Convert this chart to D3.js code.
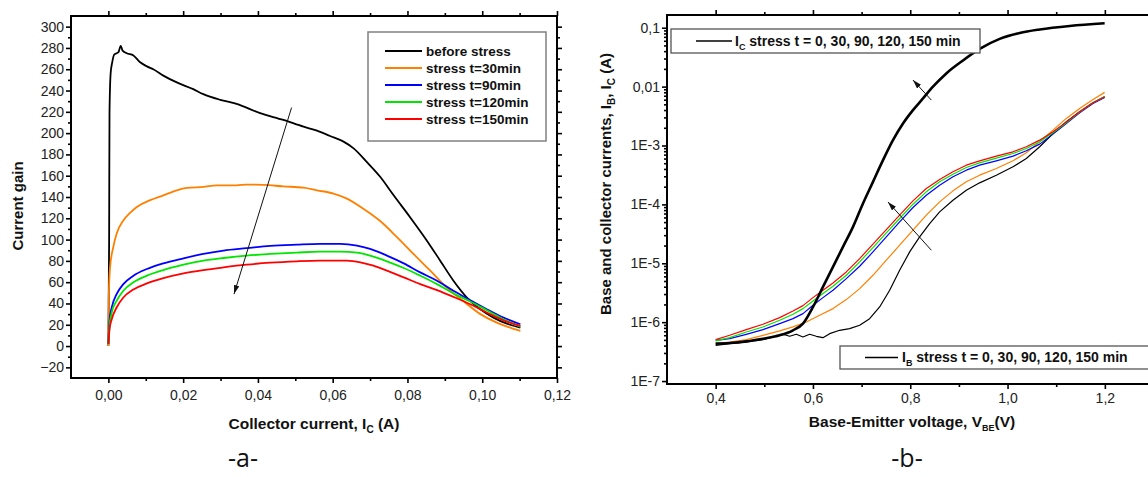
<!DOCTYPE html>
<html><head><meta charset="utf-8">
<script src="https://cdn.jsdelivr.net/npm/d3@7"></script>
<style>
body{margin:0;background:#fff;}
svg{display:block;}
</style>
</head><body>
<svg id="c" width="1148" height="477"></svg>
<script>
// ---------------- DATA: chart (a) current gain vs collector current ----------------
const seriesNamesA = ["before stress", "stress t=30min", "stress t=90min", "stress t=120min", "stress t=150min"];
const colorsA = ["#000000", "#ff8000", "#0000ff", "#00e600", "#ff0000"];
// [Ic (A), gain]
const gainBefore = [[0,0],[0.0002,100],[0.0003,219],[0.0006,256],[0.0010,266],[0.0016,274],[0.0022,275],[0.0027,276],[0.0033,282],[0.0038,277.5],[0.0049,275],[0.0067,273],[0.0085,266.5],[0.0103,262.7],[0.0120,260],[0.0147,254],[0.0183,247.6],[0.0227,241.3],[0.0254,236.6],[0.0299,231.3],[0.0343,227.5],[0.0406,218.7],[0.0468,212.4],[0.0522,206],[0.0558,202.3],[0.0593,197.3],[0.0629,192],[0.0656,185.7],[0.0691,173],[0.0727,159],[0.0763,141.6],[0.0807,121],[0.0852,99],[0.0888,80],[0.0923,61.4],[0.0959,45.6],[0.0995,34.6],[0.1030,26.7],[0.1066,21],[0.1102,17.3]];
const gain30 = [[0,0],[0.0001,45.6],[0.00045,74],[0.0013,92.8],[0.0022,105.4],[0.0040,118],[0.0058,125],[0.0076,130.6],[0.0112,137],[0.0147,141.6],[0.0183,146.3],[0.0210,148.5],[0.0254,149.5],[0.0290,151],[0.0343,151],[0.0370,151.7],[0.0415,151.4],[0.0468,150],[0.0522,148.8],[0.0558,146.3],[0.0602,143.2],[0.0638,138.5],[0.0682,129],[0.0727,117.4],[0.0772,102.3],[0.0816,86.5],[0.0861,70.8],[0.0905,55],[0.0950,42],[0.0995,30],[0.1039,22],[0.1075,17.3],[0.1102,14.2]];
const gain90 = [[0,2],[0.0003,23.6],[0.0009,36.2],[0.0022,48.8],[0.0040,58.2],[0.0067,66.1],[0.0103,72.4],[0.0147,77.7],[0.0201,82.4],[0.0254,86.5],[0.0308,89.7],[0.0370,91.9],[0.0433,94.1],[0.0504,95.3],[0.0566,96],[0.0620,96],[0.0665,94.4],[0.0700,91.3],[0.0745,85],[0.0790,77.7],[0.0834,69.2],[0.0879,61.4],[0.0923,51.9],[0.0968,43.1],[0.1012,34.6],[0.1057,26.7],[0.1102,20.5]];
const gain120 = [[0,2],[0.0003,18.9],[0.0009,31.5],[0.0022,42.5],[0.0040,52],[0.0067,59.9],[0.0103,66.1],[0.0147,71.4],[0.0201,76.4],[0.0254,80.2],[0.0308,82.7],[0.0370,85],[0.0433,86.5],[0.0504,87.8],[0.0566,88.7],[0.0620,88.7],[0.0665,87.8],[0.0700,84.9],[0.0745,79.6],[0.0790,73.3],[0.0834,66.1],[0.0879,58.2],[0.0923,49.4],[0.0968,41.9],[0.1012,33.7],[0.1057,25.2],[0.1102,18.3]];
const gain150 = [[0,2],[0.0003,15.7],[0.0009,25.2],[0.0022,36.2],[0.0040,45.6],[0.0067,53.2],[0.0103,58.8],[0.0147,63.8],[0.0201,68.3],[0.0254,71.4],[0.0308,73.9],[0.0370,76.4],[0.0433,78.3],[0.0504,79.6],[0.0566,80.2],[0.0638,80.2],[0.0674,78.7],[0.0709,75.5],[0.0745,70.8],[0.0790,64.5],[0.0834,58.2],[0.0879,52.5],[0.0923,46.2],[0.0968,39.3],[0.1012,31.5],[0.1057,24.2],[0.1102,18.9]];
const seriesA = [gainBefore, gain30, gain90, gain120, gain150];
const xTicksA = [0, 0.02, 0.04, 0.06, 0.08, 0.10, 0.12];
const yTicksA = [-20, 0, 20, 40, 60, 80, 100, 120, 140, 160, 180, 200, 220, 240, 260, 280, 300];
const arrowA = [[0.049, 224], [0.0336, 48.8]];

// ---------------- DATA: chart (b) IB, IC vs VBE (currents as log10 of A) ----------------
const colorsB = ["#000000", "#ff8000", "#0000ff", "#00e600", "#ff0000"];
const icLogBefore = [[0.400,-6.365],[0.4288,-6.354],[0.4630,-6.326],[0.4973,-6.280],[0.5316,-6.223],[0.5590,-6.138],[0.5795,-6.025],[0.6001,-5.742],[0.6206,-5.402],[0.6412,-5.062],[0.6617,-4.722],[0.6823,-4.382],[0.7028,-3.985],[0.7234,-3.617],[0.7440,-3.249],[0.7645,-2.909],[0.7851,-2.626],[0.8056,-2.399],[0.8262,-2.201],[0.8467,-2.002],[0.8741,-1.776],[0.9077,-1.560],[0.9427,-1.360],[0.9838,-1.190],[1.0249,-1.090],[1.0660,-1.030],[1.1277,-0.970],[1.1996,-0.925]];
const ibLogBefore = [[0.4000,-6.393],[0.4288,-6.365],[0.4630,-6.337],[0.4973,-6.297],[0.5178,-6.252],[0.5384,-6.206],[0.5521,-6.240],[0.5658,-6.206],[0.5795,-6.252],[0.5932,-6.206],[0.6069,-6.240],[0.6206,-6.263],[0.6343,-6.195],[0.6549,-6.138],[0.6754,-6.110],[0.6960,-6.053],[0.7165,-5.940],[0.7371,-5.742],[0.7577,-5.458],[0.7782,-5.119],[0.7988,-4.807],[0.8193,-4.552],[0.8399,-4.325],[0.8604,-4.127],[0.8878,-3.929],[0.9152,-3.759],[0.9426,-3.634],[0.9769,-3.504],[1.0112,-3.362],[1.0386,-3.220],[1.0660,-3.022],[1.0934,-2.796],[1.1208,-2.597],[1.1482,-2.427],[1.1756,-2.274],[1.1996,-2.173]];
const ibLog30 = [[0.4000,-6.365],[0.4288,-6.337],[0.4630,-6.297],[0.4973,-6.223],[0.5316,-6.149],[0.5590,-6.081],[0.5864,-5.997],[0.6138,-5.884],[0.6412,-5.770],[0.6686,-5.617],[0.6960,-5.430],[0.7234,-5.204],[0.7508,-4.948],[0.7782,-4.693],[0.8056,-4.438],[0.8330,-4.183],[0.8604,-3.957],[0.8878,-3.770],[0.9152,-3.617],[0.9426,-3.504],[0.9769,-3.390],[1.0112,-3.260],[1.0386,-3.124],[1.0660,-2.937],[1.0934,-2.739],[1.1208,-2.540],[1.1482,-2.370],[1.1756,-2.218],[1.1996,-2.098]];
const ibLog90 = [[0.4000,-6.308],[0.4288,-6.280],[0.4630,-6.206],[0.4973,-6.127],[0.5316,-6.025],[0.5590,-5.940],[0.5795,-5.855],[0.6001,-5.713],[0.6206,-5.583],[0.6412,-5.458],[0.6686,-5.260],[0.6960,-5.051],[0.7234,-4.807],[0.7508,-4.552],[0.7782,-4.297],[0.8056,-4.053],[0.8330,-3.844],[0.8604,-3.674],[0.8878,-3.532],[0.9152,-3.419],[0.9426,-3.334],[0.9769,-3.260],[1.0112,-3.181],[1.0386,-3.090],[1.0660,-2.977],[1.0934,-2.807],[1.1208,-2.626],[1.1482,-2.444],[1.1756,-2.286],[1.1996,-2.184]];
const ibLog120 = [[0.4000,-6.319],[0.4288,-6.263],[0.4630,-6.167],[0.4973,-6.082],[0.5316,-5.968],[0.5590,-5.866],[0.5795,-5.770],[0.6001,-5.640],[0.6206,-5.515],[0.6412,-5.390],[0.6686,-5.203],[0.6960,-4.977],[0.7234,-4.733],[0.7508,-4.484],[0.7782,-4.240],[0.8056,-3.997],[0.8330,-3.787],[0.8604,-3.617],[0.8878,-3.487],[0.9152,-3.374],[0.9426,-3.294],[0.9769,-3.215],[1.0112,-3.136],[1.0386,-3.050],[1.0660,-2.937],[1.0934,-2.784],[1.1208,-2.614],[1.1482,-2.433],[1.1756,-2.274],[1.1996,-2.173]];
const ibLog150 = [[0.4000,-6.297],[0.4288,-6.223],[0.4630,-6.127],[0.4973,-6.036],[0.5316,-5.923],[0.5590,-5.810],[0.5795,-5.719],[0.6001,-5.583],[0.6206,-5.458],[0.6412,-5.334],[0.6686,-5.147],[0.6960,-4.920],[0.7234,-4.676],[0.7508,-4.427],[0.7782,-4.183],[0.8056,-3.940],[0.8330,-3.730],[0.8604,-3.577],[0.8878,-3.447],[0.9152,-3.334],[0.9426,-3.260],[0.9769,-3.181],[1.0112,-3.107],[1.0386,-3.022],[1.0660,-2.909],[1.0934,-2.767],[1.1208,-2.603],[1.1482,-2.427],[1.1756,-2.274],[1.1996,-2.173]];
const ibSeries = [ibLogBefore, ibLog30, ibLog90, ibLog120, ibLog150];
const xTicksB = [0.4, 0.6, 0.8, 1.0, 1.2];
const yTicksB = [1e-1, 1e-2, 1e-3, 1e-4, 1e-5, 1e-6, 1e-7];
const yTickLabelsB = ["0,1", "0,01", "1E-3", "1E-4", "1E-5", "1E-6", "1E-7"];
const arrowIC = [[0.8434, -2.229], [0.8056, -1.889]];
const arrowIB = [[0.8434, -4.779], [0.7542, -3.958]];

// ---------------- DRAWING ----------------
const FONT = '"Liberation Sans", Arial, Helvetica, sans-serif';
const svg = d3.select("#c");
const comma = f => v => f(v).replace(".", ",");

const defs = svg.append("defs");
defs.append("marker").attr("id", "ah").attr("viewBox", "0 0 10 6")
  .attr("refX", 10).attr("refY", 3).attr("markerWidth", 9).attr("markerHeight", 5.4)
  .attr("markerUnits", "userSpaceOnUse").attr("orient", "auto")
  .append("path").attr("d", "M0,0 L10,3 L0,6 Z").attr("fill", "#111");

function styleAxis(g, fs) {
  g.select(".domain").remove();
  g.selectAll(".tick line").attr("stroke", "#000").attr("stroke-width", 1.6);
  g.selectAll(".tick text").style("font-family", FONT).style("font-size", fs + "px").attr("fill", "#222");
}

// ===== Chart (a) =====
const xA = d3.scaleLinear().domain([-0.01, 0.12]).range([71, 557]);
const yA = d3.scaleLinear().domain([-30, 310]).range([378, 16]);
const gA = svg.append("g");

const minorXA = d3.range(1, 12, 2).map(i => i / 100);
const minorYA = d3.range(-10, 310, 20);

gA.append("g").attr("transform", "translate(0,378)")
  .call(d3.axisBottom(xA).tickValues(xTicksA).tickFormat(comma(d3.format(".2f"))).tickSize(5).tickPadding(7))
  .call(g => styleAxis(g, 14));
gA.append("g").attr("transform", "translate(0,378)")
  .call(d3.axisBottom(xA).tickValues(minorXA).tickFormat("").tickSize(3)).call(g => styleAxis(g, 14));
gA.append("g").attr("transform", "translate(0,16)")
  .call(d3.axisTop(xA).tickValues(xTicksA).tickFormat("").tickSize(5)).call(g => styleAxis(g, 14));
gA.append("g").attr("transform", "translate(0,16)")
  .call(d3.axisTop(xA).tickValues(minorXA).tickFormat("").tickSize(3)).call(g => styleAxis(g, 14));
gA.append("g").attr("transform", "translate(71,0)")
  .call(d3.axisLeft(yA).tickValues(yTicksA).tickFormat(d3.format("d")).tickSize(5).tickPadding(2))
  .call(g => styleAxis(g, 14));
gA.append("g").attr("transform", "translate(71,0)")
  .call(d3.axisLeft(yA).tickValues(minorYA).tickFormat("").tickSize(3)).call(g => styleAxis(g, 14));
gA.append("g").attr("transform", "translate(557,0)")
  .call(d3.axisRight(yA).tickValues(yTicksA).tickFormat("").tickSize(5)).call(g => styleAxis(g, 14));
gA.append("g").attr("transform", "translate(557,0)")
  .call(d3.axisRight(yA).tickValues(minorYA).tickFormat("").tickSize(3)).call(g => styleAxis(g, 14));

gA.append("rect").attr("x", xA(-0.01)).attr("y", yA(310))
  .attr("width", xA(0.12) - xA(-0.01)).attr("height", yA(-30) - yA(310))
  .attr("fill", "none").attr("stroke", "#000").attr("stroke-width", 2);

const lineA = d3.line().x(d => xA(d[0])).y(d => yA(d[1])).curve(d3.curveMonotoneX);
seriesA.forEach((s, i) => {
  gA.append("path").datum(s).attr("d", lineA).attr("fill", "none")
    .attr("stroke", colorsA[i]).attr("stroke-width", 1.8).attr("stroke-linejoin", "round");
});

gA.append("line").attr("x1", xA(arrowA[0][0])).attr("y1", yA(arrowA[0][1]))
  .attr("x2", xA(arrowA[1][0])).attr("y2", yA(arrowA[1][1]))
  .attr("stroke", "#111").attr("stroke-width", 1).attr("marker-end", "url(#ah)");

// legend (a)
const legA = gA.append("g");
legA.append("rect").attr("x", 368).attr("y", 32).attr("width", 178).attr("height", 109)
  .attr("fill", "#fff").attr("stroke", "#808080").attr("stroke-width", 1.5);
seriesNamesA.forEach((n, i) => {
  const yy = 51 + i * 17;
  legA.append("line").attr("x1", 385).attr("x2", 422).attr("y1", yy).attr("y2", yy)
    .attr("stroke", colorsA[i]).attr("stroke-width", 2);
  legA.append("text").attr("x", 426).attr("y", yy).attr("dy", "0.35em")
    .style("font-family", FONT).style("font-size", "13.5px").style("font-weight", "bold")
    .attr("fill", "#111").text(n);
});

// titles (a)
svg.append("text").attr("transform", "translate(23,206) rotate(-90)").attr("text-anchor", "middle")
  .style("font-family", FONT).style("font-size", "15px").style("font-weight", "bold").attr("fill", "#111")
  .text("Current gain");
svg.append("text").attr("x", 314).attr("y", 429).attr("text-anchor", "middle")
  .style("font-family", FONT).style("font-size", "15.5px").style("font-weight", "bold").attr("fill", "#111")
  .call(t => {
    t.append("tspan").text("Collector current, I");
    t.append("tspan").attr("dy", 4).style("font-size", "10px").text("C");
    t.append("tspan").attr("dy", -4).text(" (A)");
  });
svg.append("text").attr("x", 243).attr("y", 467).attr("text-anchor", "middle")
  .style("font-family", '"Open Sans", "Noto Sans", sans-serif').style("font-size", "25px").attr("fill", "#111")
  .text("-a-");

// ===== Chart (b) =====
const xB = d3.scaleLinear().domain([0.3, 1.3]).range([667, 1153.5]);
const yB = d3.scaleLog().domain([Math.pow(10, -7.05), Math.pow(10, -0.784)]).range([384, 15]);
const gB = svg.append("g");

const minorXB = [0.5, 0.7, 0.9, 1.1];
const minorYB = [];
for (let e = -7; e <= -1; e++) for (let m = 2; m <= 9; m++) {
  const v = m * Math.pow(10, e);
  if (v < yB.domain()[1]) minorYB.push(v);
}

gB.append("g").attr("transform", "translate(0,384)")
  .call(d3.axisBottom(xB).tickValues(xTicksB).tickFormat(comma(d3.format(".1f"))).tickSize(5).tickPadding(4))
  .call(g => styleAxis(g, 14));
gB.append("g").attr("transform", "translate(0,384)")
  .call(d3.axisBottom(xB).tickValues(minorXB).tickFormat("").tickSize(3)).call(g => styleAxis(g, 14));
gB.append("g").attr("transform", "translate(0,15)")
  .call(d3.axisTop(xB).tickValues(xTicksB).tickFormat("").tickSize(5)).call(g => styleAxis(g, 14));
gB.append("g").attr("transform", "translate(0,15)")
  .call(d3.axisTop(xB).tickValues(minorXB).tickFormat("").tickSize(3)).call(g => styleAxis(g, 14));
gB.append("g").attr("transform", "translate(667,0)")
  .call(d3.axisLeft(yB).tickValues(yTicksB).tickFormat((d, i) => yTickLabelsB[i]).tickSize(5).tickPadding(2))
  .call(g => styleAxis(g, 14));
gB.append("g").attr("transform", "translate(667,0)")
  .call(d3.axisLeft(yB).tickValues(minorYB).tickFormat("").tickSize(3)).call(g => styleAxis(g, 14));

gB.append("rect").attr("x", xB(0.3)).attr("y", 15)
  .attr("width", xB(1.3) - xB(0.3)).attr("height", 384 - 15)
  .attr("fill", "none").attr("stroke", "#000").attr("stroke-width", 2);

const lineB = d3.line().x(d => xB(d[0])).y(d => yB(Math.pow(10, d[1])));
ibSeries.forEach((s, i) => {
  gB.append("path").datum(s).attr("d", lineB).attr("fill", "none")
    .attr("stroke", colorsB[i]).attr("stroke-width", 1.2).attr("stroke-linejoin", "round");
});
gB.append("path").datum(icLogBefore).attr("d", lineB.curve(d3.curveMonotoneX)).attr("fill", "none")
  .attr("stroke", "#000").attr("stroke-width", 2.6);

[arrowIC, arrowIB].forEach(a => {
  gB.append("line").attr("x1", xB(a[0][0])).attr("y1", yB(Math.pow(10, a[0][1])))
    .attr("x2", xB(a[1][0])).attr("y2", yB(Math.pow(10, a[1][1])))
    .attr("stroke", "#111").attr("stroke-width", 1).attr("marker-end", "url(#ah)");
});

// legends (b)
function legendB(x, y, w, h, lx1, lx2, tx, sub) {
  gB.append("rect").attr("x", x).attr("y", y).attr("width", w).attr("height", h)
    .attr("fill", "#fff").attr("stroke", "#555").attr("stroke-width", 1.3);
  const cy = y + h / 2;
  gB.append("line").attr("x1", lx1).attr("x2", lx2).attr("y1", cy).attr("y2", cy)
    .attr("stroke", "#000").attr("stroke-width", 1.3);
  gB.append("text").attr("x", tx).attr("y", cy).attr("dy", "0.35em")
    .style("font-family", FONT).style("font-size", "14px").style("font-weight", "bold").attr("fill", "#111")
    .call(t => {
      t.append("tspan").text("I");
      t.append("tspan").attr("dy", 4).style("font-size", "9px").text(sub);
      t.append("tspan").attr("dy", -4).text(" stress t = 0, 30, 90, 120, 150 min");
    });
}
legendB(671, 29, 309, 24, 696, 732, 735, "C");
legendB(840, 346, 330, 23, 865, 898, 902, "B");

// titles (b)
svg.append("text").attr("transform", "translate(611,184) rotate(-90)").attr("text-anchor", "middle")
  .style("font-family", FONT).style("font-size", "15px").style("font-weight", "bold").attr("fill", "#111")
  .call(t => {
    t.append("tspan").text("Base and collector currents, I");
    t.append("tspan").attr("dy", 4).style("font-size", "10px").text("B");
    t.append("tspan").attr("dy", -4).text(", I");
    t.append("tspan").attr("dy", 4).style("font-size", "10px").text("C");
    t.append("tspan").attr("dy", -4).text(" (A)");
  });
svg.append("text").attr("x", 912).attr("y", 427).attr("text-anchor", "middle")
  .style("font-family", FONT).style("font-size", "15.5px").style("font-weight", "bold").attr("fill", "#111")
  .call(t => {
    t.append("tspan").text("Base-Emitter voltage, V");
    t.append("tspan").attr("dy", 4).style("font-size", "9px").text("BE");
    t.append("tspan").attr("dy", -4).text("(V)");
  });
svg.append("text").attr("x", 907).attr("y", 467).attr("text-anchor", "middle")
  .style("font-family", '"Open Sans", "Noto Sans", sans-serif').style("font-size", "25px").attr("fill", "#111")
  .text("-b-");
</script>
</body></html>
